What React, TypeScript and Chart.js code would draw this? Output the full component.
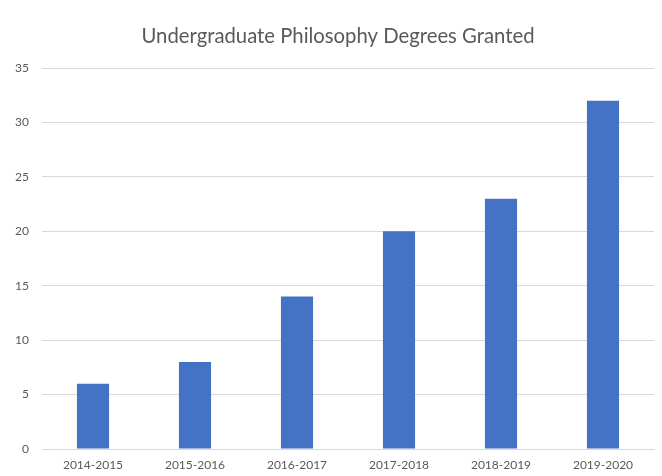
import React, { useEffect, useRef } from "react";
import { Chart, registerables } from "chart.js";

Chart.register(...registerables);

const categories = ["2014-2015", "2015-2016", "2016-2017", "2017-2018", "2018-2019", "2019-2020"];
const degrees = [6, 8, 14, 20, 23, 32];
const yTicks = [0, 5, 10, 15, 20, 25, 30, 35];
const titleText = "Undergraduate Philosophy Degrees Granted";

export default function App() {
  const ref = useRef<HTMLCanvasElement | null>(null);
  useEffect(() => {
    if (!ref.current) return;
    const font = "Lato, 'Open Sans', sans-serif";
    const titlePlugin = {
      id: "customTitle",
      afterDraw(chart: any) {
        const ctx = chart.ctx;
        ctx.save();
        ctx.fillStyle = "#595959";
        ctx.font = `20.3px ${font}`;
        ctx.textAlign = "center";
        ctx.textBaseline = "middle";
        ctx.fillText(titleText, 338, 36);
        ctx.restore();
      },
    };
    const chart = new Chart(ref.current, {
      type: "bar",
      data: {
        labels: categories,
        datasets: [
          {
            data: degrees,
            backgroundColor: "#4472c4",
            categoryPercentage: 1,
            barPercentage: 0.315,
          },
        ],
      },
      options: {
        animation: false,
        responsive: false,
        layout: { padding: { top: 68, right: 8, bottom: 0, left: 0 } },
        plugins: {
          legend: { display: false },
          tooltip: { enabled: false },
          title: { display: false },
        },
        scales: {
          x: {
            grid: { display: false, drawTicks: false },
            border: { display: true, color: "#d9d9d9", width: 1 },
            ticks: { color: "#595959", font: { family: font, size: 12 }, padding: 9, maxRotation: 0 },
            afterFit: (s: any) => {
              s.height = 27;
            },
          },
          y: {
            min: 0,
            max: 35,
            afterBuildTicks: (s: any) => {
              s.ticks = yTicks.map((v) => ({ value: v }));
            },
            grid: { color: "#d9d9d9", lineWidth: 1, drawTicks: false },
            border: { display: false },
            ticks: { color: "#595959", font: { family: font, size: 12 }, padding: 13 },
            afterFit: (s: any) => {
              s.width = 42;
            },
          },
        },
      },
      plugins: [titlePlugin],
    });
    return () => chart.destroy();
  }, []);
  return (
    <div style={{ position: "fixed", left: 0, top: 0, width: 662, height: 476, background: "#fff" }}>
      <canvas ref={ref} width={662} height={476} style={{ width: 662, height: 476 }} />
    </div>
  );
}
